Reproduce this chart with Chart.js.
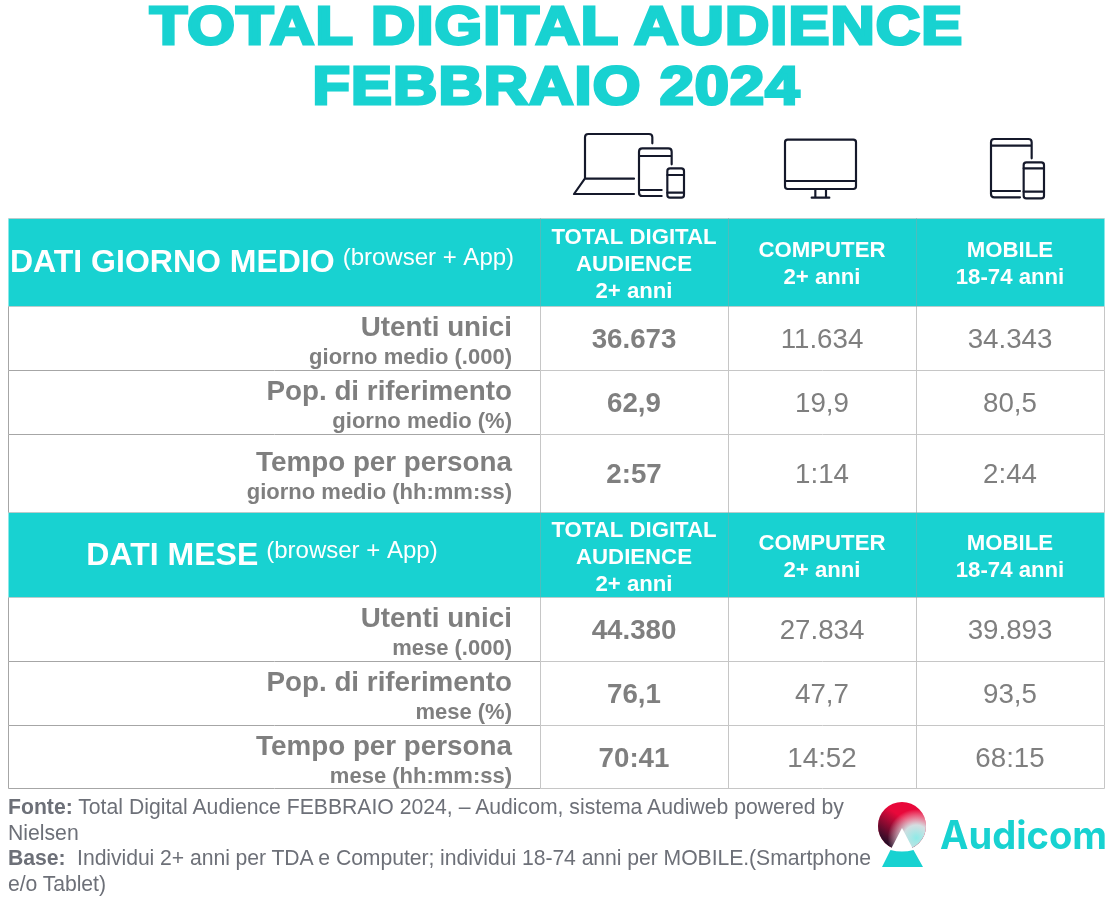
<!DOCTYPE html>
<html>
<head>
<meta charset="utf-8">
<script src="https://cdn.jsdelivr.net/npm/chart.js@4"></script>
<style>
  html, body { margin: 0; padding: 0; background: #fff; }
  body { width: 1118px; height: 898px; position: relative; overflow: hidden; font-family: "Liberation Sans", Arial, sans-serif; }
  #title { position: absolute; left: 0; top: -4px; width: 1113px; margin: 0; text-align: center; color: #18d2d1;
           font-size: 53px; line-height: 60px; font-weight: bold; letter-spacing: 1px; -webkit-text-stroke: 3px #18d2d1;
           transform: scaleX(1.155); }
  #icons { position: absolute; left: 560px; top: 125px; }
  #canvas { position: absolute; left: 0; top: 210px; }
  #notes { position: absolute; left: 8px; top: 794px; width: 872px; margin: 0; color: #6d7078; font-size: 21.2px; line-height: 25.7px; }
  #notes span { letter-spacing: -0.06px; }
  #logo { position: absolute; left: 860px; top: 790px; }
</style>
</head>
<body>
<h1 id="title">TOTAL DIGITAL AUDIENCE<br>FEBBRAIO 2024</h1>

<svg id="icons" width="500" height="85" viewBox="0 0 1500 255" fill="none" stroke="#15192b" stroke-width="6.5" stroke-linecap="round" stroke-linejoin="round">
  <path d="M277 55V37Q277 27 267 27H85Q75 27 75 37V160L42 207H222M75 161H222"/>
  <path d="M335 118V80Q335 70 325 70H247Q237 70 237 80V203Q237 213 247 213H305M237 93H335M237 195H305"/>
  <rect x="322" y="130" width="50" height="88" rx="8"/>
  <path d="M322 150H372M322 203H372"/>
  <rect x="675" y="44" width="213" height="148" rx="8"/>
  <path d="M675 168H888M766 192V218M798 192V218M755 218H808"/>
  <path d="M1415 100V52Q1415 42 1405 42H1303Q1293 42 1293 52V207Q1293 217 1303 217H1380M1293 62H1415M1293 198H1380"/>
  <rect x="1391" y="112" width="61" height="108" rx="8"/>
  <path d="M1391 130H1452M1391 200H1452"/>
</svg>

<canvas id="canvas" width="1118" height="600"></canvas>

<p id="notes"><b>Fonte:</b> Total Digital Audience FEBBRAIO 2024, – Audicom, sistema Audiweb powered by Nielsen<br><span><b>Base:</b>&nbsp; Individui 2+ anni per TDA e Computer; individui 18-74 anni per MOBILE.(Smartphone e/o Tablet)</span></p>

<svg id="logo" width="258" height="90" viewBox="0 0 258 90">
  <defs>
    <linearGradient id="dark" x1="0.15" y1="0.95" x2="0.55" y2="0.35">
      <stop offset="0" stop-color="#0b0d24"/>
      <stop offset="1" stop-color="#0b0d24" stop-opacity="0"/>
    </linearGradient>
    <radialGradient id="light" cx="0.8" cy="0.75" r="0.6">
      <stop offset="0" stop-color="#8debe7"/>
      <stop offset="0.45" stop-color="#d2f6f4" stop-opacity="0.9"/>
      <stop offset="1" stop-color="#ffffff" stop-opacity="0"/>
    </radialGradient>
  </defs>
  <circle cx="42" cy="36" r="24" fill="#e8083a"/>
  <circle cx="42" cy="36" r="24" fill="url(#dark)"/>
  <circle cx="42" cy="36" r="24" fill="url(#light)"/>
  <path d="M42 38L53.5 60Q42 63 30.5 60Z" fill="#fff"/>
  <path d="M30.5 60Q42 63 53.5 60L63 77H22Z" fill="#18d2d1"/>
  <text x="80" y="59" font-family="Inter" font-weight="700" font-size="39" fill="#18d2d1" textLength="167" lengthAdjust="spacingAndGlyphs">Audicom</text>
</svg>

<script>
const columnHeads = [
    ['TOTAL DIGITAL', 'AUDIENCE', '2+ anni'],
    ['COMPUTER', '2+ anni'],
    ['MOBILE', '18-74 anni']
];
const bandTitles = ['DATI GIORNO MEDIO', 'DATI MESE'];
const bandNote = '(browser + App)';

const rowTitles = ['Utenti unici', 'Pop. di riferimento', 'Tempo per persona'];
const dayUnits = ['giorno medio (.000)', 'giorno medio (%)', 'giorno medio (hh:mm:ss)'];
const monthUnits = ['mese (.000)', 'mese (%)', 'mese (hh:mm:ss)'];

const totalDigital = ['36.673', '62,9', '2:57', '44.380', '76,1', '70:41'];
const computer = ['11.634', '19,9', '1:14', '27.834', '47,7', '14:52'];
const mobile = ['34.343', '80,5', '2:44', '39.893', '93,5', '68:15'];

// table layout, in axis units
const colEdges = [0, 532, 720, 908, 1096];
const rowEdges = [0, 88, 152, 216, 294, 379, 443, 507, 570];
const bandRows = [0, 4];
const dataRows = [1, 2, 3, 5, 6, 7];

const teal = '#18d2d1';
const grey = '#7f7f7f';
const font = '"Liberation Sans", Arial, sans-serif';

let middle = (edges, i) => (edges[i] + edges[i + 1]) / 2;

let cellPoints = (values, col) => values.map((v, i) => ({
    x: middle(colEdges, col),
    y: middle(rowEdges, dataRows[i]),
    label: v
}));

let text = (ctx, str, x, y, size, bold, color, align) => {
    ctx.font = (bold ? 'bold ' : '') + size + 'px ' + font;
    ctx.fillStyle = color;
    ctx.textAlign = align || 'center';
    ctx.textBaseline = 'alphabetic';
    ctx.fillText(str, x, y);
};

let tablePlugin = {
    id: 'table',
    beforeDatasetsDraw(chart) {
        let ctx = chart.ctx;
        let sx = chart.scales.x;
        let sy = chart.scales.y;
        let px = v => Math.round(sx.getPixelForValue(v)) + 0.5;
        let py = v => Math.round(sy.getPixelForValue(v)) + 0.5;
        let line = (x1, y1, x2, y2, color) => {
            ctx.strokeStyle = color;
            ctx.lineWidth = 1;
            ctx.beginPath();
            ctx.moveTo(x1, y1);
            ctx.lineTo(x2, y2);
            ctx.stroke();
        };
        ctx.save();
        bandRows.forEach(r => {
            ctx.fillStyle = teal;
            ctx.fillRect(px(colEdges[0]), py(rowEdges[r]), px(colEdges[4]) - px(colEdges[0]), py(rowEdges[r + 1]) - py(rowEdges[r]));
        });
        rowEdges.forEach((e, i) => {
            // lines touching a band are paler
            let nearBand = bandRows.includes(i) || bandRows.includes(i - 1);
            line(px(colEdges[0]), py(e), px(colEdges[1]), py(e), nearBand ? '#b9cccc' : '#a6a6a6');
            line(px(colEdges[1]), py(e), px(colEdges[4]), py(e), nearBand ? '#b9cccc' : '#c6c6c6');
        });
        dataRows.forEach(r => {
            let y1 = py(rowEdges[r]);
            let y2 = py(rowEdges[r + 1]);
            line(px(colEdges[0]), y1, px(colEdges[0]), y2, '#a6a6a6');
            colEdges.slice(1).forEach(e => line(px(e), y1, px(e), y2, '#c6c6c6'));
        });
        bandRows.forEach(r => {
            colEdges.slice(1, 4).forEach(e => line(px(e), py(rowEdges[r]), px(e), py(rowEdges[r + 1]), '#4fbcbc'));
        });
        ctx.restore();
    },
    afterDatasetsDraw(chart) {
        let ctx = chart.ctx;
        let sx = chart.scales.x;
        let sy = chart.scales.y;
        ctx.save();

        // values, placed on the points of each dataset
        chart.data.datasets.forEach((ds, d) => {
            chart.getDatasetMeta(d).data.forEach((pt, i) => {
                text(ctx, ds.data[i].label, pt.x, pt.y + 10, 27.7, d === 0, grey);
            });
        });

        // band headers
        bandRows.forEach((r, b) => {
            let cy = sy.getPixelForValue(middle(rowEdges, r));
            columnHeads.forEach((head, c) => {
                let cx = sx.getPixelForValue(middle(colEdges, c + 1));
                let start = head.length === 3 ? -18 : -5;
                head.forEach((str, l) => text(ctx, str, cx, cy + start + l * 27, 22.2, true, '#fff'));
            });
            ctx.font = 'bold 32px ' + font;
            let w1 = ctx.measureText(bandTitles[b]).width;
            ctx.font = '24px ' + font;
            let w2 = ctx.measureText(bandNote).width;
            let left = sx.getPixelForValue(middle(colEdges, 0)) - 12 - (w1 + 8 + w2) / 2;
            text(ctx, bandTitles[b], left, cy + 10, 32, true, '#fff', 'left');
            text(ctx, bandNote, left + w1 + 8, cy + 3, 24, false, '#fff', 'left');
        });

        // row labels
        let right = sx.getPixelForValue(colEdges[1]) - 28;
        dataRows.forEach((r, i) => {
            let cy = sy.getPixelForValue(middle(rowEdges, r));
            let units = i < 3 ? dayUnits[i] : monthUnits[i - 3];
            text(ctx, rowTitles[i % 3], right, cy - 2, 27.8, true, grey, 'right');
            text(ctx, units, right, cy + 26, 22, true, grey, 'right');
        });
        ctx.restore();
    }
};

let ctx = document.getElementById('canvas').getContext('2d');

let tableChart = new Chart(ctx, {
    type: 'scatter',
    data: {
        datasets: [
            { label: 'TOTAL DIGITAL AUDIENCE', data: cellPoints(totalDigital, 1), pointRadius: 0 },
            { label: 'COMPUTER', data: cellPoints(computer, 2), pointRadius: 0 },
            { label: 'MOBILE', data: cellPoints(mobile, 3), pointRadius: 0 }
        ]
    },
    options: {
        responsive: false,
        devicePixelRatio: 1,
        animation: false,
        layout: { padding: { left: 8, right: 14, top: 8, bottom: 22 } },
        plugins: { legend: { display: false }, tooltip: { enabled: false } },
        scales: {
            x: { type: 'linear', display: false, min: colEdges[0], max: colEdges[4] },
            y: { type: 'linear', display: false, reverse: true, min: rowEdges[0], max: rowEdges[8] }
        }
    },
    plugins: [tablePlugin]
});
</script>
</body>
</html>
